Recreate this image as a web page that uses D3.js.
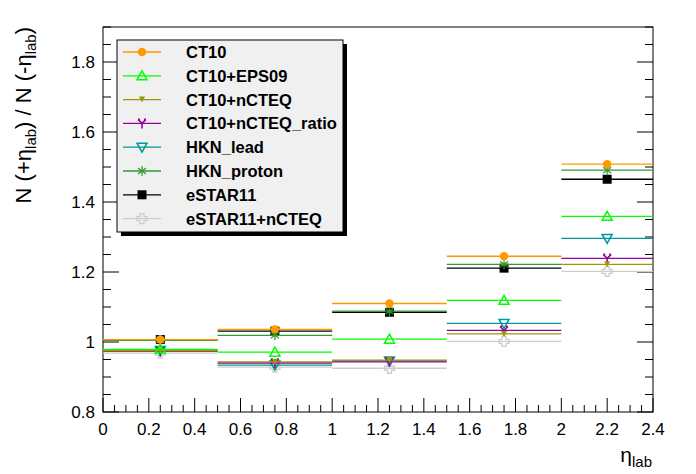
<!DOCTYPE html><html><head><meta charset="utf-8">
<script src="https://cdn.jsdelivr.net/npm/d3@7"></script>
<style>body{margin:0;background:#fff}</style></head><body>
<svg id="c" width="696" height="474"></svg>
<script>
const binEdges=[0,0.5,1,1.5,2,2.4];
const binCenters=[0.25,0.75,1.25,1.75,2.2];
const seriesNames=["CT10","CT10+EPS09","CT10+nCTEQ","CT10+nCTEQ_ratio","HKN_lead","HKN_proton","eSTAR11","eSTAR11+nCTEQ"];
const seriesColors=["#ff9900","#00ff00","#999900","#990099","#009999","#339933","#000000","#cccccc"];
const seriesMarkers=["circle","triUp","triDownFill","tristar","triDown","asterisk","square","cross"];
const vCT10=[1.007,1.036,1.11,1.245,1.508];
const vEPS09=[0.979,0.971,1.008,1.119,1.359];
const vNCTEQ=[0.975,0.943,0.948,1.023,1.222];
const vNCTEQratio=[0.973,0.94,0.943,1.033,1.239];
const vHKNlead=[0.976,0.934,0.946,1.053,1.296];
const vHKNproton=[1.005,1.019,1.088,1.222,1.491];
const vESTAR=[1.007,1.031,1.085,1.211,1.465];
const vESTARn=[0.968,0.928,0.925,1.002,1.202];
const seriesValues=[vCT10,vEPS09,vNCTEQ,vNCTEQratio,vHKNlead,vHKNproton,vESTAR,vESTARn];
const xTicks=[0,0.2,0.4,0.6,0.8,1,1.2,1.4,1.6,1.8,2,2.2,2.4];
const yTicks=[0.8,1,1.2,1.4,1.6,1.8];

const svg=d3.select("#c");
const L=103,R=653,T=27,B=412;
const x=d3.scaleLinear().domain([0,2.4]).range([L,R]);
const y=d3.scaleLinear().domain([0.8,1.9]).range([B,T]);
const g=svg.append("g");
g.append("rect").attr("x",L).attr("y",T).attr("width",R-L).attr("height",B-T).attr("fill","none").attr("stroke","#000");
for(let v=0;v<=2.4001;v+=0.05){const maj=Math.abs(v*5-Math.round(v*5))<1e-6;
 g.append("line").attr("x1",x(v)).attr("x2",x(v)).attr("y1",B).attr("y2",B-(maj?14:7)).attr("stroke","#000");}
xTicks.forEach(v=>g.append("text").attr("x",x(v)).attr("y",B+23).attr("text-anchor","middle").attr("font-family","Liberation Sans,Arial").attr("font-size",17).text(d3.format("~g")(v)));
for(let v=0.8;v<=1.9001;v+=0.05){const maj=Math.abs(v*5-Math.round(v*5))<1e-6;
 g.append("line").attr("x1",L).attr("x2",L+(maj?16:8)).attr("y1",y(v)).attr("y2",y(v)).attr("stroke","#000");
 g.append("line").attr("x1",R).attr("x2",R-(maj?16:8)).attr("y1",y(v)).attr("y2",y(v)).attr("stroke","#000");}
yTicks.forEach(v=>g.append("text").attr("x",L-8).attr("y",y(v)+6).attr("text-anchor","end").attr("font-family","Liberation Sans,Arial").attr("font-size",17).text(d3.format("~g")(v)));
const xt=g.append("text").attr("x",652).attr("y",462).attr("text-anchor","end").attr("font-family","Liberation Sans,Arial").attr("font-size",21);
xt.append("tspan").text("η");xt.append("tspan").attr("font-size",15).attr("dy",5).text("lab");
const yt=g.append("text").attr("transform","translate(31,27) rotate(-90)").attr("text-anchor","end").attr("font-family","Liberation Sans,Arial").attr("font-size",22);
yt.append("tspan").text("N (+η");yt.append("tspan").attr("font-size",15).attr("dy",5).text("lab");
yt.append("tspan").attr("dy",-5).text(") / N (-η");yt.append("tspan").attr("font-size",15).attr("dy",5).text("lab");yt.append("tspan").attr("dy",-5).text(")");

function marker(sel,type,c,cx,cy){
 const s=sel.append("g").attr("transform",`translate(${cx},${cy})`);
 if(type==="circle")s.append("circle").attr("r",4.2).attr("fill",c);
 else if(type==="square")s.append("rect").attr("x",-4.5).attr("y",-4.5).attr("width",9).attr("height",9).attr("fill",c);
 else if(type==="triUp")s.append("path").attr("d","M0,-5L5,4L-5,4Z").attr("fill","none").attr("stroke",c).attr("stroke-width",1.5);
 else if(type==="triDown")s.append("path").attr("d","M0,5L5,-4L-5,-4Z").attr("fill","none").attr("stroke",c).attr("stroke-width",1.5);
 else if(type==="triDownFill")s.append("path").attr("d","M0,3L3,-3L-3,-3Z").attr("fill",c);
 else if(type==="tristar")s.append("path").attr("d","M0,0L0,5M0,0L-4,-4M0,0L4,-4M-4,-4L-2,-4M4,-4L2,-4").attr("stroke",c).attr("stroke-width",1.6);
 else if(type==="asterisk")s.append("path").attr("d","M0,-5V5M-4,-3L4,3M-4,3L4,-3").attr("stroke",c).attr("stroke-width",1.2);
 else if(type==="cross")s.append("path").attr("d","M-2,-5H2V-2H5V2H2V5H-2V2H-5V-2H-2Z").attr("fill","none").attr("stroke",c).attr("stroke-width",1.3);
}
for(let i=seriesNames.length-1;i>=0;i--){const c=seriesColors[i];
 seriesValues[i].forEach((v,j)=>{
  g.append("line").attr("x1",x(binEdges[j])).attr("x2",x(binEdges[j+1])).attr("y1",y(v)).attr("y2",y(v)).attr("stroke",c).attr("stroke-width",1.3);
  marker(g,seriesMarkers[i],c,x(binCenters[j]),y(v));});}
const lx=117,ly=40,lw=226,lh=192;
g.append("rect").attr("x",lx+4).attr("y",ly+4).attr("width",lw).attr("height",lh).attr("fill","#000");
g.append("rect").attr("x",lx).attr("y",ly).attr("width",lw).attr("height",lh).attr("fill","#f0f0f0").attr("stroke","#000");
seriesNames.forEach((n,i)=>{const yy=ly+12+i*23.8,c=seriesColors[i];
 g.append("line").attr("x1",lx+6).attr("x2",lx+44).attr("y1",yy).attr("y2",yy).attr("stroke",c).attr("stroke-width",1.3);
 marker(g,seriesMarkers[i],c,lx+25,yy);
 g.append("text").attr("x",lx+69).attr("y",yy+6).attr("font-family","Liberation Sans,Arial").attr("font-weight","bold").attr("font-size",16.5).text(n);});
</script></body></html>
